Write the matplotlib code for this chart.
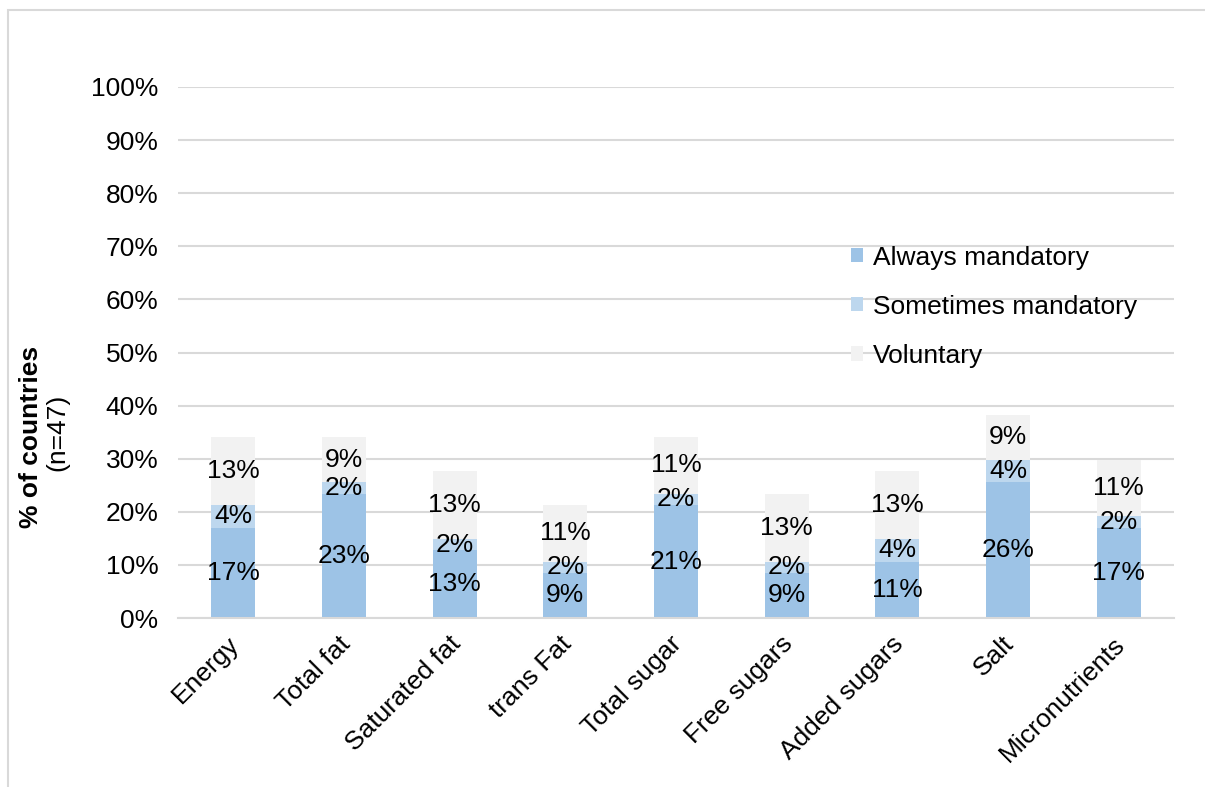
import numpy as np
import matplotlib.pyplot as plt
from matplotlib.patches import Rectangle
from matplotlib.transforms import ScaledTranslation

plt.rcParams['font.family'] = ['Liberation Sans', 'DejaVu Sans']

# data (% of countries, n=47)
categories = ['Energy', 'Total fat', 'Saturated fat', 'trans Fat', 'Total sugar',
              'Free sugars', 'Added sugars', 'Salt', 'Micronutrients']
always_mandatory = [17.02, 23.40, 12.77, 8.51, 21.28, 8.51, 10.64, 25.53, 17.02]
sometimes_mandatory = [4.26, 2.13, 2.13, 2.13, 2.13, 2.13, 4.26, 4.26, 2.13]
voluntary = [12.77, 8.51, 12.77, 10.64, 10.64, 12.77, 12.77, 8.51, 10.64]
series_names = ['Always mandatory', 'Sometimes mandatory', 'Voluntary']
colors = ['#9DC3E6', '#BDD7EE', '#F2F2F2']

fig = plt.figure(figsize=(12.05, 7.87), dpi=100)
ax = fig.add_axes([178 / 1205, 1 - 618 / 787, (1174 - 178) / 1205, (618 - 87) / 787])

# outer frame like the exported chart area
fig.patches.append(Rectangle((8 / 1205, -0.1), 1.2, 1.1 - 10 / 787, transform=fig.transFigure,
                             fill=False, edgecolor='#D9D9D9', linewidth=1.5, zorder=0))

x = np.arange(len(categories))
bottom = np.zeros(len(categories))
for name, vals, col in zip(series_names, [always_mandatory, sometimes_mandatory, voluntary], colors):
    vals = np.array(vals)
    ax.bar(x, vals, 0.4, bottom=bottom, color=col, label=name, zorder=2)
    for xi, b, v in zip(x, bottom, vals):
        ax.text(xi, b + v / 2, f'{v:.0f}%', ha='center', va='center', fontsize=19, zorder=3)
    bottom += vals

ax.set_xlim(-0.5, len(categories) - 0.5)
ax.set_ylim(0, 100)
ax.set_yticks(np.arange(0, 101, 10))
ax.set_yticklabels([f'{t}%' for t in range(0, 101, 10)], fontsize=19)
ax.yaxis.grid(True, color='#D9D9D9', linewidth=1.5, zorder=0)
ax.set_axisbelow(True)
ax.set_xticks(x)
ax.set_xticklabels(categories, rotation=45, ha='right', rotation_mode='anchor', fontsize=19)
ax.tick_params(axis='y', length=0, pad=14)
ax.tick_params(axis='x', length=0, pad=10)
shift = ScaledTranslation(-6 / 100, 0, fig.dpi_scale_trans)
for lbl in ax.get_xticklabels():
    lbl.set_transform(lbl.get_transform() + shift)
for s in ['top', 'right', 'left']:
    ax.spines[s].set_visible(False)
ax.spines['bottom'].set_color('#D9D9D9')
ax.spines['bottom'].set_linewidth(1.5)

fig.text(31 / 1205, 1 - 437 / 787, '% of countries', rotation=90, ha='center', va='center',
         fontsize=19, fontweight='bold')
fig.text(57 / 1205, 1 - 432 / 787, '(n=47)', rotation=90, ha='center', va='center', fontsize=19)

ax.legend(loc='upper left', bbox_to_anchor=(0.665, 0.721), frameon=False, fontsize=19,
          handlelength=0.45, handleheight=0.45, handletextpad=0.4, labelspacing=0.95,
          borderaxespad=0)

fig.savefig('out.png', dpi=100)
